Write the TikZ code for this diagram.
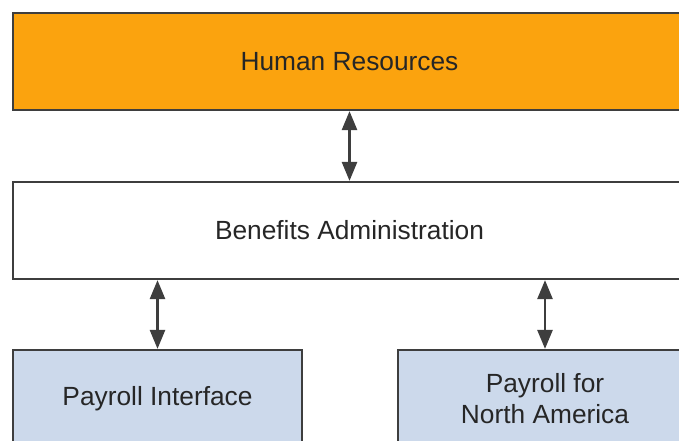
\documentclass[tikz,border=0pt]{standalone}
\usepackage{fontspec}
\setmainfont{Liberation Sans}
\usepackage{tikz}
\usetikzlibrary{arrows.meta, calc, positioning}
\definecolor{hrorange}{HTML}{FBA30E}
\definecolor{payblue}{HTML}{CCD9EB}
\definecolor{edgegray}{HTML}{3E3E3E}
\definecolor{txtgray}{HTML}{262626}

\begin{document}
\begin{tikzpicture}[x=1pt, y=-1pt, font=\fontsize{26.3}{31}\selectfont]
	\tikzset	{
		block/.style={
			draw=edgegray, line width=2.2pt, text=txtgray,
			minimum height=97pt, inner sep=0pt, align=center
		},
		link/.style={
			draw=edgegray, line width=2.6pt,
			{Triangle[width=15pt,length=19pt]}-{Triangle[width=15pt,length=19pt]}
		},
	}
	\useasboundingbox (0,0) rectangle (679,441);
	\clip (0,0) rectangle (679,441);

	\node[block, fill=hrorange, minimum width=673pt]	(hr)	at (349.5,61.5)	{Human Resources};
	\node[block, fill=white, minimum width=673pt]	(ben)	at (349.5,230.5)	{Benefits Administration};
	\node[block, fill=payblue, minimum width=289pt]	(pif)	at (157.5,398.5)	{Payroll Interface};
	\node[block, fill=payblue, minimum width=294pt]	(pna)	at (545,398.5)	{Payroll for\\North America};

	\draw[link]	(hr.south)	-- (ben.north);
	\draw[link]	(pif.north |- ben.south)	-- (pif.north);
	\draw[link]	(pna.north |- ben.south)	-- (pna.north);
\end{tikzpicture}
\end{document}
